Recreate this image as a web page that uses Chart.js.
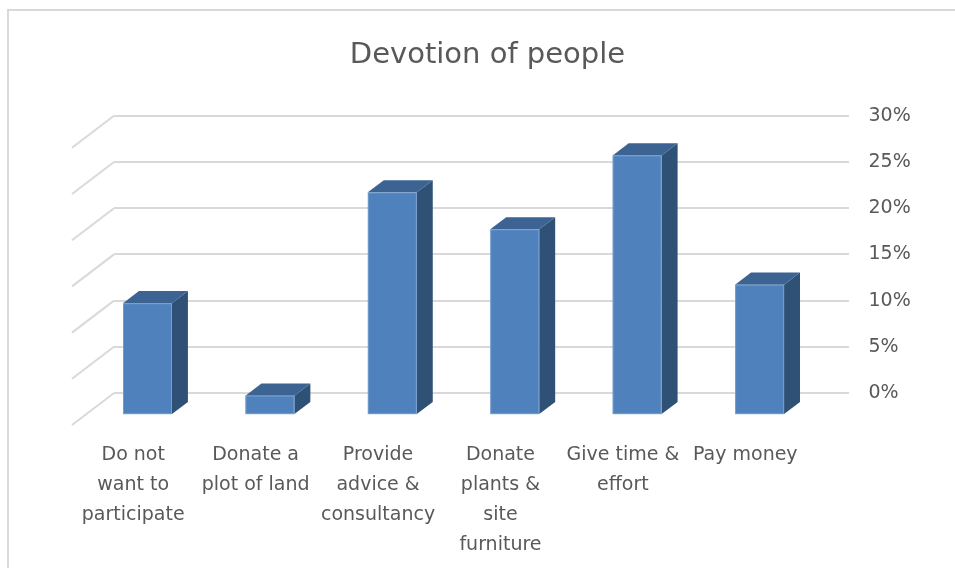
<!DOCTYPE html>
<html>
<head>
<meta charset="utf-8">
<title>Devotion of people</title>
<script src="https://cdn.jsdelivr.net/npm/chart.js@4/dist/chart.umd.min.js"></script>
<style>
  html, body { margin: 0; padding: 0; background: #fff; }
  #wrap { width: 955px; height: 568px; }
</style>
</head>
<body>
<div id="wrap"><canvas id="devotionChart" width="955" height="568"></canvas></div>
<script>
const categories = [
  ["Do not", "want to", "participate"],
  ["Donate a", "plot of land"],
  ["Provide", "advice &", "consultancy"],
  ["Donate", "plants &", "site", "furniture"],
  ["Give time &", "effort"],
  ["Pay money"]
];
const shares = [12, 2, 24, 20, 28, 14];
const axisMax = 30;
const axisStep = 5;

// oblique depth of the floor (side wall runs from the back wall towards the viewer)
const FLOOR_DX = 42;
const FLOOR_DY = 32;
const BAR_FRONT = 0.66;
const BAR_BACK = 0.28;

const FRONT_COLOR = "#4f81bd";
const TOP_COLOR = "#3c6391";
const SIDE_COLOR = "#2f5175";
const GRID_COLOR = "#d9d9d9";
const TEXT_COLOR = "#595959";

Chart.defaults.font.family = '"DejaVu Sans", sans-serif';
Chart.defaults.color = TEXT_COLOR;

const box3d = {
  id: "box3d",
  beforeDraw(chart) {
    const { ctx, chartArea, scales } = chart;
    ctx.save();
    ctx.fillStyle = "#fff";
    ctx.fillRect(0, 0, chart.width, chart.height);
    ctx.strokeStyle = GRID_COLOR;
    ctx.lineWidth = 2;
    ctx.strokeRect(8, 10, chart.width + 20, chart.height + 20);
    // left wall lines, one per tick
    scales.y.ticks.forEach((t) => {
      const py = scales.y.getPixelForValue(t.value);
      ctx.beginPath();
      ctx.moveTo(chartArea.left, py);
      ctx.lineTo(chartArea.left - FLOOR_DX, py + FLOOR_DY);
      ctx.stroke();
    });
    ctx.restore();
  },
  afterDatasetsDraw(chart) {
    const { ctx } = chart;
    const fx = -FLOOR_DX * BAR_FRONT, fy = FLOOR_DY * BAR_FRONT;
    const bx = -FLOOR_DX * BAR_BACK, by = FLOOR_DY * BAR_BACK;
    ctx.save();
    chart.getDatasetMeta(0).data.forEach((bar) => {
      const { x, y, base, width } = bar.getProps(["x", "y", "base", "width"], true);
      const l = x - width / 2, r = x + width / 2;
      // side face
      ctx.fillStyle = SIDE_COLOR;
      ctx.beginPath();
      ctx.moveTo(r + fx, y + fy);
      ctx.lineTo(r + bx, y + by);
      ctx.lineTo(r + bx, base + by);
      ctx.lineTo(r + fx, base + fy);
      ctx.closePath();
      ctx.fill();
      // top face
      ctx.fillStyle = TOP_COLOR;
      ctx.beginPath();
      ctx.moveTo(l + fx, y + fy);
      ctx.lineTo(r + fx, y + fy);
      ctx.lineTo(r + bx, y + by);
      ctx.lineTo(l + bx, y + by);
      ctx.closePath();
      ctx.fill();
      // front face
      ctx.fillStyle = FRONT_COLOR;
      ctx.fillRect(l + fx, y + fy, width, base - y);
      ctx.strokeStyle = "rgba(140,175,220,0.6)";
      ctx.lineWidth = 1;
      ctx.strokeRect(l + fx + 0.5, y + fy + 0.5, width - 1, base - y - 1);
    });
    ctx.restore();
  }
};

new Chart(document.getElementById("devotionChart"), {
  type: "bar",
  data: {
    labels: categories,
    datasets: [{
      label: "Devotion",
      data: shares,
      backgroundColor: "rgba(0,0,0,0)",
      borderWidth: 0,
      barPercentage: 0.4,
      categoryPercentage: 1
    }]
  },
  options: {
    responsive: false,
    animation: false,
    layout: { padding: { left: 20, right: 0, top: 0, bottom: 0 } },
    plugins: {
      legend: { display: false },
      tooltip: { enabled: false },
      title: {
        display: true,
        text: "Devotion of people",
        color: TEXT_COLOR,
        font: { size: 29, weight: "normal", lineHeight: 1.2 },
        padding: { top: 38, bottom: 43 }
      }
    },
    scales: {
      x: {
        grid: { display: false, drawTicks: false },
        border: { display: false },
        ticks: {
          autoSkip: false,
          maxRotation: 0,
          minRotation: 0,
          padding: 47,
          labelOffset: -FLOOR_DX,
          font: { size: 19, lineHeight: 1.58 },
          color: TEXT_COLOR
        },
        afterFit(scale) { scale.height = 175; }
      },
      // empty left axis that leaves room for the side wall
      wall: {
        type: "linear",
        position: "left",
        grid: { display: false, drawTicks: false },
        border: { display: false },
        ticks: { display: false },
        afterFit(scale) { scale.width = 94; }
      },
      y: {
        position: "right",
        min: 0,
        max: axisMax,
        grid: { color: GRID_COLOR, lineWidth: 2, drawTicks: false },
        border: { display: false },
        ticks: {
          stepSize: axisStep,
          padding: 20,
          font: { size: 19 },
          color: TEXT_COLOR,
          callback: (v) => v + "%"
        },
        afterFit(scale) { scale.width = 106.5; }
      }
    }
  },
  plugins: [box3d]
});
</script>
</body>
</html>
